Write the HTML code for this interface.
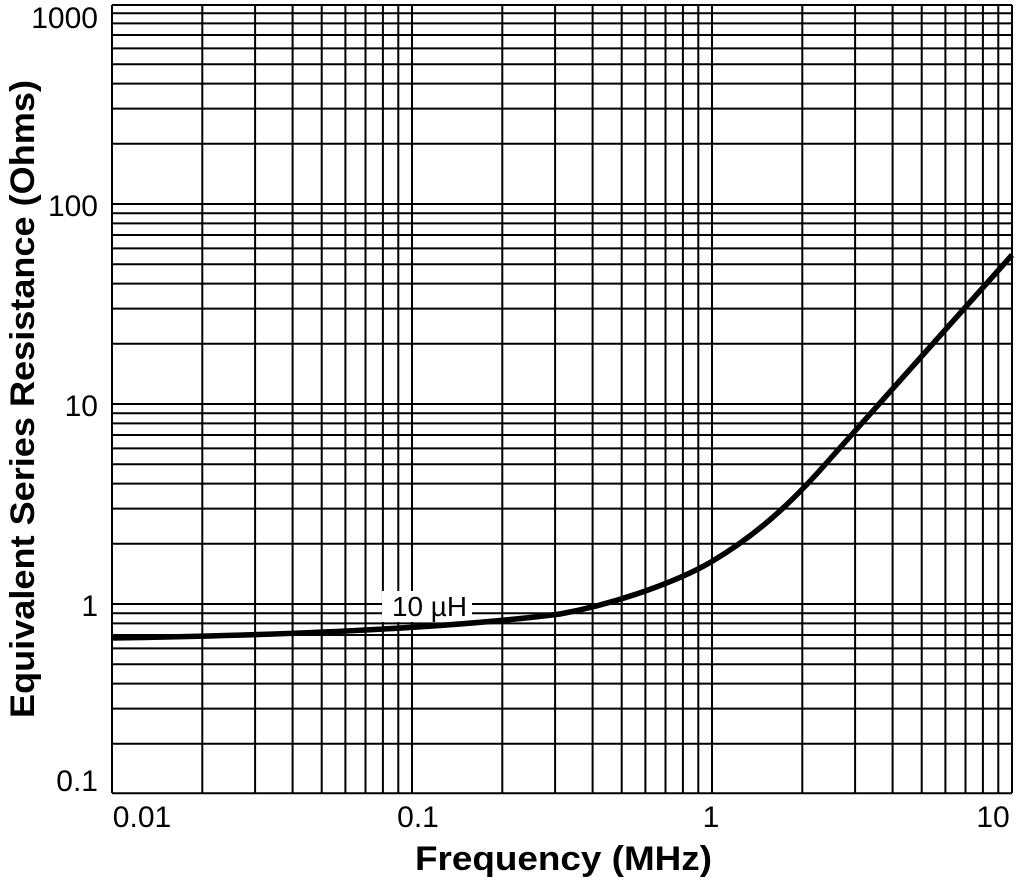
<!DOCTYPE html>
<html><head><style>html,body{margin:0;padding:0;background:#fff}</style></head>
<body>
<svg width="1016" height="879" xmlns="http://www.w3.org/2000/svg" font-family="'Liberation Sans', Arial, sans-serif">
<g stroke="#000" stroke-width="2" fill="none">
<path d="M112 5V793 M202.3 5V793 M255.1 5V793 M292.6 5V793 M321.7 5V793 M345.4 5V793 M365.5 5V793 M382.9 5V793 M398.3 5V793 M412 5V793 M502.3 5V793 M555.1 5V793 M592.6 5V793 M621.7 5V793 M645.4 5V793 M665.5 5V793 M682.9 5V793 M698.3 5V793 M712 5V793 M802.3 5V793 M855.1 5V793 M892.6 5V793 M921.7 5V793 M945.4 5V793 M965.5 5V793 M982.9 5V793 M998.3 5V793 M1012 5V793"/>
<path d="M112 793.2H1012 M112 743.8H1012 M112 708.6H1012 M112 683.6H1012 M112 664.2H1012 M112 648.4H1012 M112 635.0H1012 M112 623.4H1012 M112 613.2H1012 M112 604H1012 M112 543.8H1012 M112 508.6H1012 M112 483.6H1012 M112 464.2H1012 M112 448.4H1012 M112 435.0H1012 M112 423.4H1012 M112 413.2H1012 M112 404H1012 M112 343.8H1012 M112 308.6H1012 M112 283.6H1012 M112 264.2H1012 M112 248.4H1012 M112 235.0H1012 M112 223.4H1012 M112 213.2H1012 M112 204H1012 M112 143.8H1012 M112 108.6H1012 M112 83.6H1012 M112 64.2H1012 M112 48.4H1012 M112 35.0H1012 M112 23.4H1012 M112 13.2H1012 M112 5H1012"/>
</g>
<rect x="382" y="591" width="90" height="31" fill="#fff"/>
<text x="392" y="616" font-size="28" textLength="75" lengthAdjust="spacingAndGlyphs">10 µH</text>
<path d="M112 638 C300 635 450 628 560 614 C620 603 680 580 711 562 C755 536 790 505 830 459 L1012 255" stroke="#000" stroke-width="5.5" fill="none" stroke-linejoin="round"/>
<g font-size="30" text-anchor="end">
<text x="98" y="28">1000</text>
<text x="98" y="216">100</text>
<text x="98" y="416">10</text>
<text x="98" y="616">1</text>
<text x="98" y="791">0.1</text>
</g>
<g font-size="30" text-anchor="middle">
<text x="142" y="827">0.01</text>
<text x="418" y="827">0.1</text>
<text x="711" y="827">1</text>
<text x="993" y="827">10</text>
</g>
<text x="415" y="870" font-size="34" font-weight="bold" textLength="297" lengthAdjust="spacingAndGlyphs">Frequency (MHz)</text>
<text transform="translate(34 718) rotate(-90)" font-size="34" font-weight="bold" textLength="638" lengthAdjust="spacingAndGlyphs">Equivalent Series Resistance (Ohms)</text>
</svg>
</body></html>
